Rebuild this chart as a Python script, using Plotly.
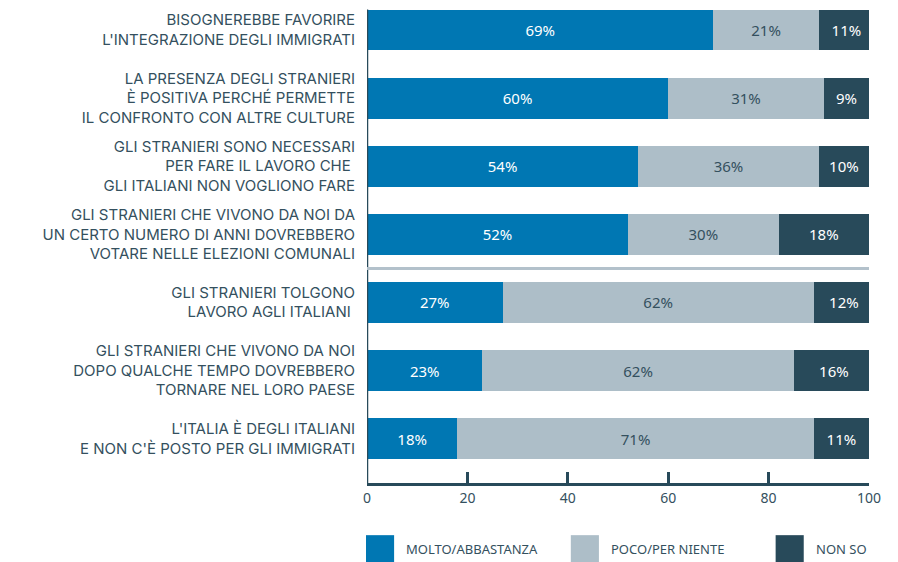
import plotly.graph_objects as go

categories = [
    "BISOGNEREBBE FAVORIRE<br>L'INTEGRAZIONE DEGLI IMMIGRATI",
    "LA PRESENZA DEGLI STRANIERI<br>È POSITIVA PERCHÉ PERMETTE<br>IL CONFRONTO CON ALTRE CULTURE",
    "GLI STRANIERI SONO NECESSARI<br>PER FARE IL LAVORO CHE <br>GLI ITALIANI NON VOGLIONO FARE",
    "GLI STRANIERI CHE VIVONO DA NOI DA<br>UN CERTO NUMERO DI ANNI DOVREBBERO<br>VOTARE NELLE ELEZIONI COMUNALI",
    "GLI STRANIERI TOLGONO<br>LAVORO AGLI ITALIANI ",
    "GLI STRANIERI CHE VIVONO DA NOI<br>DOPO QUALCHE TEMPO DOVREBBERO<br>TORNARE NEL LORO PAESE",
    "L'ITALIA È DEGLI ITALIANI<br>E NON C'È POSTO PER GLI IMMIGRATI",
]
molto = [69, 60, 54, 52, 27, 23, 18]
poco = [21, 31, 36, 30, 62, 62, 71]
nonso = [11, 9, 10, 18, 12, 16, 11]
series_names = ["MOLTO/ABBASTANZA", "POCO/PER NIENTE", "NON SO"]
x_ticks = [0, 20, 40, 60, 80, 100]

C_BLUE = "#0077b3"
C_GRAY = "#adbec8"
C_DARK = "#284a5a"
C_TEXT = "#34505e"
FONT_LAB = "Inter"
FONT = "Noto Sans"

BAR_W = 0.6

fig = go.Figure()
for name, vals, col, tcol in [
    (series_names[0], molto, C_BLUE, "white"),
    (series_names[1], poco, C_GRAY, C_TEXT),
    (series_names[2], nonso, C_DARK, "white"),
]:
    fig.add_trace(go.Bar(
        y=categories, x=vals, name=name, orientation="h", width=BAR_W,
        marker=dict(color=col, line=dict(width=0)),
        text=[f"{v}%" for v in vals], textposition="inside",
        insidetextanchor="middle", textangle=0,
        textfont=dict(color=tcol, size=15, family=FONT),
        showlegend=False, hoverinfo="x+name",
    ))

# left axis line starting at the top of the first bar
fig.add_shape(type="line", xref="x", yref="y", x0=0, x1=0,
              y0=-BAR_W / 2, y1=6.65, line=dict(color=C_DARK, width=2.5))

# separator between positive and negative statements
fig.add_shape(type="line", xref="paper", yref="y", x0=0, x1=1, y0=3.5, y1=3.5,
              line=dict(color="#b3c1cb", width=3))

# custom legend
leg_x = [0.0, 0.408, 0.816]
for name, col, lx in zip(series_names, [C_BLUE, C_GRAY, C_DARK], leg_x):
    fig.add_shape(type="rect", xref="paper", yref="paper",
                  x0=lx - 0.002, x1=lx + 0.054, y0=-0.108, y1=-0.166,
                  fillcolor=col, line=dict(width=0))
    fig.add_annotation(xref="paper", yref="paper", x=lx + 0.074, y=-0.137,
                       text=name, showarrow=False, xanchor="left", yanchor="middle",
                       font=dict(size=13, color=C_TEXT, family=FONT))

fig.update_layout(
    barmode="stack",
    width=898, height=562,
    margin=dict(l=367, r=29, t=0, b=79),
    plot_bgcolor="white", paper_bgcolor="white",
    font=dict(family=FONT, color=C_TEXT, size=14),
    uniformtext=dict(mode=False),
)
fig.update_xaxes(range=[0, 100], tickvals=x_ticks, ticks="inside", ticklen=11,
                 tickwidth=2.5, tickcolor=C_DARK, showline=True, linecolor=C_DARK,
                 linewidth=2.5, showgrid=False, zeroline=False,
                 tickfont=dict(size=14, color=C_TEXT, family=FONT))
fig.update_yaxes(range=[6.65, -0.44], showline=False,
                 ticks="", showgrid=False, ticklabelstandoff=11,
                 tickfont=dict(size=15, color=C_TEXT, family=FONT_LAB))

fig.write_html("out.html")
